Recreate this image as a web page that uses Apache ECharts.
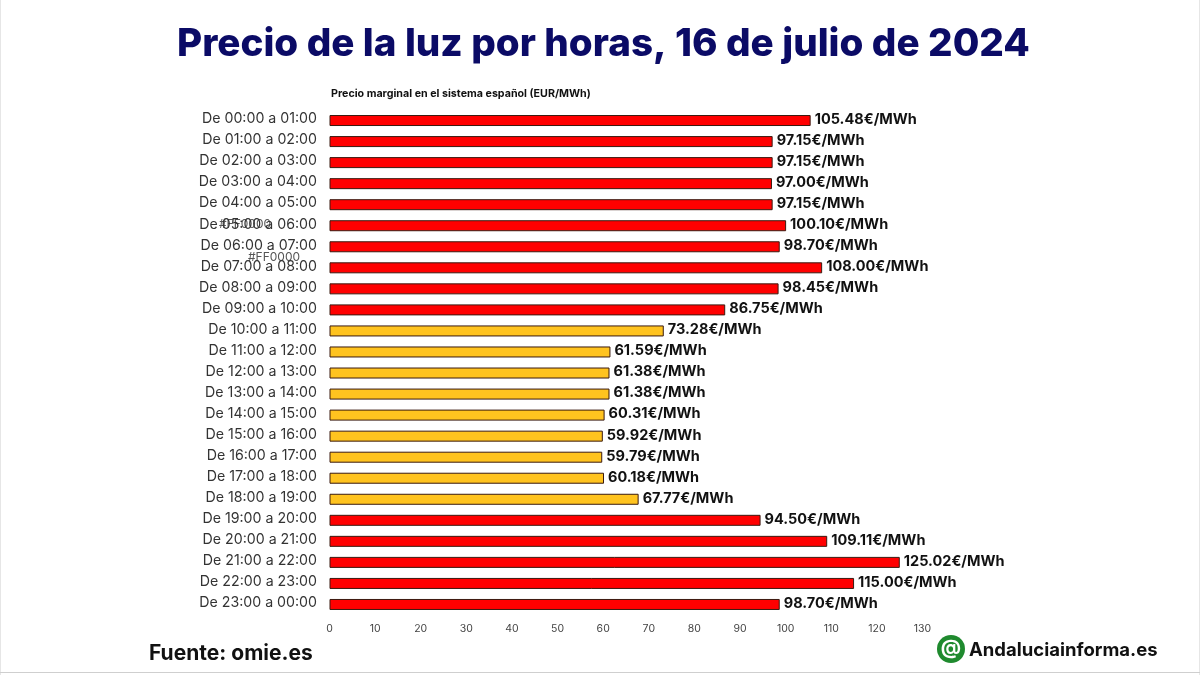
<!DOCTYPE html>
<html><head><meta charset="utf-8">
<style>html,body{margin:0;padding:0;background:#fff}#c{width:1200px;height:675px}</style>
<script src="https://cdn.jsdelivr.net/npm/echarts@6/dist/echarts.min.js"></script>
</head><body><div id="c"></div>
<script>
const titleText = 'Precio de la luz por horas, 16 de julio de 2024';
const subtitleText = 'Precio marginal en el sistema español (EUR/MWh)';
const categories = ['De 00:00 a 01:00','De 01:00 a 02:00','De 02:00 a 03:00','De 03:00 a 04:00','De 04:00 a 05:00','De 05:00 a 06:00','De 06:00 a 07:00','De 07:00 a 08:00','De 08:00 a 09:00','De 09:00 a 10:00','De 10:00 a 11:00','De 11:00 a 12:00','De 12:00 a 13:00','De 13:00 a 14:00','De 14:00 a 15:00','De 15:00 a 16:00','De 16:00 a 17:00','De 17:00 a 18:00','De 18:00 a 19:00','De 19:00 a 20:00','De 20:00 a 21:00','De 21:00 a 22:00','De 22:00 a 23:00','De 23:00 a 00:00'];
const values = [105.48,97.15,97.15,97.00,97.15,100.10,98.70,108.00,98.45,86.75,73.28,61.59,61.38,61.38,60.31,59.92,59.79,60.18,67.77,94.50,109.11,125.02,115.00,98.70];
const barColors = ['#FF0000','#FF0000','#FF0000','#FF0000','#FF0000','#FF0000','#FF0000','#FF0000','#FF0000','#FF0000','#FFC31F','#FFC31F','#FFC31F','#FFC31F','#FFC31F','#FFC31F','#FFC31F','#FFC31F','#FFC31F','#FF0000','#FF0000','#FF0000','#FF0000','#FF0000'];
const font = 'Inter';
const chart = echarts.init(document.getElementById('c'), null, {renderer:'canvas'});
chart.setOption({
  animation:false,
  backgroundColor:'#fff',
  grid:{left:329.5,top:110,width:593,height:505,containLabel:false},
  xAxis:{type:'value',min:0,max:130,interval:10,
    axisLine:{show:false},axisTick:{show:false},splitLine:{show:false},
    axisLabel:{color:'#444',fontFamily:font,fontSize:10.5,margin:8}},
  yAxis:{type:'category',inverse:true,data:categories,
    axisLine:{show:false},axisTick:{show:false},splitLine:{show:false},
    axisLabel:{color:'#333',fontFamily:font,fontSize:14.2,margin:12.5,verticalAlign:'bottom',lineHeight:3}},
  series:[{type:'bar',barWidth:11,
    data:values.map((v,i)=>({value:v,itemStyle:{color:barColors[i]}})),
    itemStyle:{borderColor:'#3a1a10',borderWidth:1,borderRadius:0},
    label:{show:true,position:'right',distance:4,offset:[0,-1],color:'#111',fontFamily:font,fontWeight:700,fontSize:14.5,
      formatter:p=>p.value.toFixed(2)+'€/MWh'}
  }],
  graphic:[
    {type:'rect',x:0,y:0,shape:{width:1,height:675},style:{fill:'#e6e6e6'}},
    {type:'rect',x:1199,y:0,shape:{width:1,height:675},style:{fill:'#e6e6e6'}},
    {type:'rect',x:0,y:672,shape:{width:1200,height:1},style:{fill:'#cfcfcf'}},
    {type:'text',x:177,y:44,style:{text:titleText,fill:'#0B0B66',font:'800 38.6px Inter',verticalAlign:'middle'}},
    {type:'text',x:331,y:94,style:{text:subtitleText,fill:'#111',font:'700 10.7px Inter',verticalAlign:'middle'}},
    {type:'text',x:219,y:224,style:{text:'#FF0000',fill:'#555',font:'12px Inter',verticalAlign:'middle'}},
    {type:'text',x:248,y:257,style:{text:'#FF0000',fill:'#555',font:'12px Inter',verticalAlign:'middle'}},
    {type:'text',x:149,y:654,style:{text:'Fuente: omie.es',fill:'#111',font:'700 21px Inter',verticalAlign:'middle'}},
    {type:'circle',shape:{cx:951,cy:649,r:14},style:{fill:'#1f8a2e'}},
    {type:'text',x:951,y:648,style:{text:'@',fill:'#fff',font:'700 20px Inter',align:'center',verticalAlign:'middle'}},
    {type:'text',x:969,y:650,style:{text:'Andaluciainforma.es',fill:'#111',font:'700 18.5px Inter',verticalAlign:'middle'}}
  ]
});
</script></body></html>
